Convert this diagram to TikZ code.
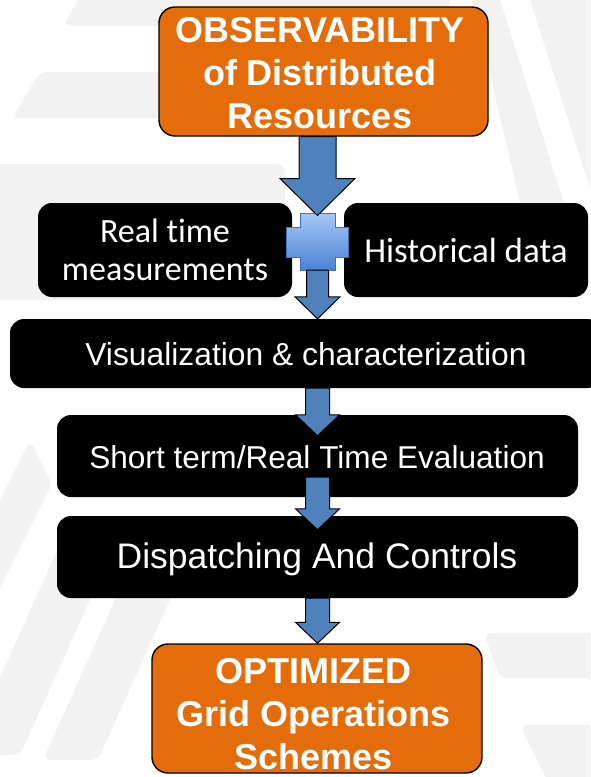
\documentclass[tikz,border=0pt]{standalone}
\usepackage{fontspec}
\setmainfont{Liberation Sans}
\newfontfamily\calibrifont[Ligatures=NoCommon]{Carlito}
\usetikzlibrary{calc}

\definecolor{boxorange}{HTML}{E46C0A}
\definecolor{arrowblue}{HTML}{4F81BD}
\definecolor{plustop}{HTML}{A6C8F6}
\definecolor{plusbot}{HTML}{4A83D3}
\definecolor{plusedge}{HTML}{3F72BC}
\definecolor{watermark}{HTML}{F2F2F2}

% vertical block arrow: #1 start, #2 tip, #3 shaft half width, #4 head half width, #5 head length
\newcommand\blockarrowpath[5]{%
  \draw[blockarrow] ($(#1)+(-#3,0)$) -- ($(#2)+(-#3,-#5)$) -- ($(#2)+(-#4,-#5)$) -- (#2)
    -- ($(#2)+(#4,-#5)$) -- ($(#2)+(#3,-#5)$) -- ($(#1)+(#3,0)$) -- cycle;}

\begin{document}
\begin{tikzpicture}[x=1pt,y=-1pt,
  orangebox/.style={rectangle, rounded corners=16pt, fill=boxorange, draw=black, line width=1.4pt, inner sep=0pt},
  blackbox/.style={rectangle, rounded corners=14pt, fill=black, inner sep=0pt},
  headline/.style={text=white, font=\fontsize{36}{43}\selectfont\bfseries, align=center, inner sep=0pt},
  steplabel/.style={text=white, inner sep=0pt},
  blockarrow/.style={fill=arrowblue, draw=black, line width=1pt, line join=miter},
  plusshape/.style={top color=plustop, bottom color=plusbot, draw=plusedge, line width=0.8pt},
  band/.style={fill=watermark, rounded corners=8pt}
]
\useasboundingbox (0,0) rectangle (590,777);

% faint watermark bands in the background
\begin{scope}
  \clip (0,0) rectangle (590,777);
  \fill[band] (84,-10) -- (450,-10) -- (450,26) -- (63,26) -- cycle;
  \fill[band] (40,72) -- (300,72) -- (300,118) -- (12,118) -- cycle;
  \fill[band] (-10,164) -- (285,164) -- (285,300) -- (-10,300) -- cycle;
  \fill[band] (30,440) -- (52,484) -- (-20,628) -- (-20,540) -- cycle;
  \fill[band] (66.5,530) -- (121.5,530) -- (20,755) -- (-35,755) -- cycle;
  \fill[band] (119.5,590) -- (174.5,590) -- (98,760) -- (43,760) -- cycle;
  \fill[band] (470,-10) -- (497,-10) -- (566,210) -- (522,210) -- cycle;
  \fill[band] (527,-10) -- (610,-10) -- (610,220) -- (600,220) -- cycle;
  \fill[band] (484,633) -- (610,633) -- (610,678) -- (500,678) -- cycle;
  \fill[band] (520,725) -- (610,725) -- (610,790) -- (552,790) -- cycle;
\end{scope}

% boxes
\node (obs) [orangebox, minimum width=329pt, minimum height=129pt] at (323.5,71.5) {};
\node (rt)  [blackbox, minimum width=254pt, minimum height=94pt] at (165,250) {};
\node (hd)  [blackbox, minimum width=244pt, minimum height=94pt] at (466,250) {};
\node (vis) [blackbox, minimum width=591pt, minimum height=69pt] at (305.5,353.5) {};
\node (st)  [blackbox, minimum width=521pt, minimum height=82pt] at (317.5,456) {};
\node (dc)  [blackbox, minimum width=521pt, minimum height=82pt] at (317.5,557) {};
\node (opt) [orangebox, minimum width=330pt, minimum height=129pt] at (317,708.5) {};

% junction where the two data sources merge
\coordinate (join) at (317.5,241.5);
\draw[plusshape, shift={(join)}]
  (-17.5,-28.5) -- (17.5,-28.5) -- (17.5,-14.5) -- (30.5,-14.5) -- (30.5,15.5)
  -- (17.5,15.5) -- (17.5,28.5) -- (-17.5,28.5) -- (-17.5,15.5) -- (-31.5,15.5)
  -- (-31.5,-14.5) -- (-17.5,-14.5) -- cycle;

% arrow end points
\coordinate (a1s) at (obs.south -| join);
\coordinate (a1t) at ($(join)+(0,-26)$);
\coordinate (a2s) at ($(join)+(0,28.5)$);
\coordinate (a2t) at (vis.north -| join);
\coordinate (a3s) at (vis.south -| join);
\coordinate (a3t) at ($(st.north -| join)+(0,21)$);
\coordinate (a4s) at ($(st.south -| join)+(0,-20)$);
\coordinate (a4t) at ($(dc.north -| join)+(0,14)$);
\coordinate (a5s) at (dc.south -| join);
\coordinate (a5t) at (opt.north -| join);

\blockarrowpath{a1s}{a1t}{18.5}{37.5}{37}
\blockarrowpath{a2s}{a2t}{11}{22.5}{22}
\blockarrowpath{a3s}{a3t}{12}{22}{21}
\blockarrowpath{a4s}{a4t}{12}{22}{21}
\blockarrowpath{a5s}{a5t}{12}{22}{21}

% labels
\node (obstext) [headline] at (320,73) {OBSERVABILITY\\of Distributed\\Resources};
\node (rttext) [steplabel, font=\calibrifont\fontsize{34}{38}\selectfont, align=center] at (165,250) {Real time\\measurements};
\node (hdtext) [steplabel, font=\calibrifont\fontsize{35}{40}\selectfont, anchor=base] at (466,262) {Historical data};
\node (vistext) [steplabel, font=\fontsize{31.8}{36}\selectfont, anchor=base] at (306,365) {Visualization \& characterization};
\node (sttext) [steplabel, font=\fontsize{31.6}{36}\selectfont, anchor=base] at (317,468) {Short term/Real Time Evaluation};
\node (dctext) [steplabel, font=\fontsize{35.5}{40}\selectfont, anchor=base] at (317,568) {Dispatching And Controls};
\node (opttext) [headline] at (313.5,714) {OPTIMIZED\\Grid Operations\\Schemes};
\end{tikzpicture}
\end{document}
